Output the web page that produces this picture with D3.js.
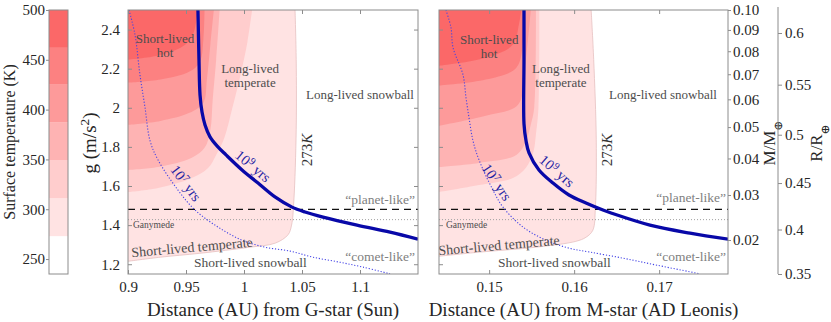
<!DOCTYPE html>
<html>
<head>
<meta charset="utf-8">
<title>Surface temperature and lifetime vs distance and gravity</title>
<script src="https://d3js.org/d3.v7.min.js"></script>
<style>
    body { margin: 0; background: #fff; }
    text { font-family: "Liberation Serif", "DejaVu Serif", serif; fill: #262626; }
</style>
</head>
<body>
<script>
    // temperature levels (K) of the filled contours, and their colours
    var tempLevels = [273, 311, 349, 387, 425, 462, 500];
    var bandColors = ["#ffe3e3", "#ffcdcd", "#feb3b3", "#fd9a9a", "#fc8181", "#fb6868"];
    var cbTicks = [250, 300, 350, 400, 450, 500];
    var gTicks = [1.2, 1.4, 1.6, 1.8, 2.0, 2.2, 2.4];
    var gDomain = [1.15, 2.5];
    var sunTicks = [0.9, 0.95, 1, 1.05, 1.1];
    var adlTicks = [0.15, 0.16, 0.17];
    var massTicks = [0.02, 0.03, 0.04, 0.05, 0.06, 0.07, 0.08, 0.09, 0.10];
    var radiusTicks = [0.35, 0.4, 0.45, 0.5, 0.55, 0.6];
    var planetLikeG = 1.48;
    var ganymedeG = 1.428;

    // contour boundaries [distance AU, g], G-star (Sun)
    var sunT273 = [[0.9, 1.215], [0.928, 1.236], [0.962, 1.256], [1.005, 1.287], [1.027, 1.308], [1.038, 1.351], [1.041, 1.400], [1.043, 1.528], [1.045, 1.887], [1.045, 2.246], [1.044, 2.5]];
    var sunT311 = [[0.9, 1.569], [0.926, 1.590], [0.955, 1.641], [0.969, 1.692], [0.976, 1.759], [0.983, 1.846], [0.990, 2.0], [0.997, 2.169], [1.003, 2.338], [1.007, 2.5]];
    var sunT349 = [[0.9, 1.682], [0.926, 1.697], [0.955, 1.744], [0.966, 1.795], [0.971, 1.887], [0.973, 2.041], [0.976, 2.246], [0.979, 2.5]];
    var sunT387 = [[0.9, 1.913], [0.928, 1.933], [0.953, 1.974], [0.965, 2.026], [0.968, 2.144], [0.971, 2.323], [0.974, 2.5]];
    var sunT425 = [[0.9, 2.128], [0.928, 2.144], [0.953, 2.185], [0.962, 2.236], [0.965, 2.349], [0.966, 2.5]];
    var sunT462 = [[0.9, 2.246], [0.926, 2.267], [0.947, 2.313], [0.956, 2.374], [0.960, 2.5]];
    var sunLife9 = [[0.9603, 2.5], [0.9612, 2.244], [0.9621, 2.065], [0.9638, 1.978], [0.9664, 1.912], [0.9707, 1.851], [0.9767, 1.805], [0.9845, 1.759], [0.9983, 1.682], [1.0121, 1.615], [1.0267, 1.544], [1.0414, 1.492], [1.0526, 1.467], [1.0681, 1.441], [1.0974, 1.400], [1.1259, 1.364], [1.15, 1.328]];
    var sunLife7 = [[0.9009, 2.5], [0.906, 2.374], [0.9103, 2.169], [0.9147, 2.0], [0.919, 1.831], [0.9259, 1.733], [0.9431, 1.579], [0.9578, 1.477], [0.9776, 1.390], [0.9983, 1.323], [1.0181, 1.287], [1.0397, 1.267], [1.0595, 1.236], [1.0828, 1.210], [1.1026, 1.185], [1.1259, 1.151]];

    // contour boundaries [distance AU, g], M-star (AD Leonis)
    var adlT273 = [[0.1441, 1.241], [0.1489, 1.262], [0.1555, 1.287], [0.1602, 1.317], [0.1614, 1.338], [0.1622, 1.374], [0.1625, 1.492], [0.1626, 1.836], [0.1623, 2.246], [0.1620, 2.5]];
    var adlT311 = [[0.1441, 1.569], [0.1488, 1.605], [0.1528, 1.641], [0.1543, 1.692], [0.1552, 1.774], [0.1555, 1.862], [0.1558, 2.0], [0.1559, 2.5]];
    var adlT349 = [[0.1441, 1.697], [0.1488, 1.718], [0.1532, 1.759], [0.1543, 1.826], [0.1549, 1.913], [0.1553, 2.0], [0.1555, 2.5]];
    var adlT387 = [[0.1441, 1.908], [0.1496, 1.959], [0.1534, 2.015], [0.1541, 2.169], [0.1549, 2.5]];
    var adlT425 = [[0.1441, 2.113], [0.1496, 2.144], [0.1532, 2.205], [0.1540, 2.344], [0.1542, 2.5]];
    var adlT462 = [[0.1441, 2.215], [0.1496, 2.256], [0.1528, 2.323], [0.1535, 2.426], [0.1538, 2.5]];
    var adlLife9 = [[0.1541, 2.5], [0.1541, 2.246], [0.1541, 1.918], [0.15434, 1.831], [0.15469, 1.769], [0.15586, 1.682], [0.15751, 1.615], [0.15939, 1.554], [0.16139, 1.513], [0.16339, 1.477], [0.16434, 1.462], [0.16892, 1.400], [0.17363, 1.359], [0.17812, 1.328]];
    var adlLife7 = [[0.14492, 2.5], [0.14551, 2.41], [0.14575, 2.308], [0.14692, 2.169], [0.14728, 2.051], [0.14763, 1.949], [0.1481, 1.831], [0.14881, 1.733], [0.15045, 1.579], [0.15163, 1.492], [0.15398, 1.390], [0.15669, 1.323], [0.1594, 1.282], [0.16186, 1.262], [0.16575, 1.231], [0.16975, 1.195], [0.1748, 1.151]];

    var W = 831, H = 322;
    var plotTop = 10, plotBottom = 274;
    var frameColor = "#8c8c8c";

    var svg = d3.select("body").append("svg").attr("width", W).attr("height", H);
    var yG = d3.scaleLinear().domain(gDomain).range([plotBottom, plotTop]);

    // write text made of plain / superscript / subscript / italic parts
    function setParts(t, parts) {
        parts.forEach(function (p) {
            if (typeof p === "string") { t.append("tspan").text(p); return; }
            var s = t.append("tspan").text(p.s);
            if (p.sup) s.attr("baseline-shift", "super").attr("font-size", "70%");
            if (p.sub) s.attr("baseline-shift", "sub").attr("font-size", "70%");
            if (p.it) s.attr("font-style", "italic");
        });
    }

    function styleAxis(a) {
        a.attr("font-size", null).attr("font-family", null);
        a.select(".domain").remove();
        a.selectAll(".tick line").attr("stroke", frameColor);
        a.selectAll(".tick text").attr("font-size", 15).attr("fill", "#262626");
    }

    function drawPanel(p) {
        var x = d3.scaleLinear().domain(p.xDomain).range(p.xRange);
        var x0 = p.xRange[0], x1 = p.xRange[1];
        svg.append("clipPath").attr("id", "clip-" + p.id).append("rect")
            .attr("x", x0).attr("y", plotTop).attr("width", x1 - x0).attr("height", plotBottom - plotTop);
        var plot = svg.append("g").attr("clip-path", "url(#clip-" + p.id + ")");
        var line = d3.line()
            .x(function (d) { return x(d[0]); })
            .y(function (d) { return yG(d[1]); })
            .curve(d3.curveCatmullRom.alpha(0.5));

        // filled temperature bands, coolest first
        p.contours.forEach(function (pts, i) {
            plot.append("path")
                .attr("d", line(pts) + "L" + x0 + "," + plotTop + "Z")
                .attr("fill", bandColors[i]);
        });
        plot.append("path").attr("d", line(p.contours[0]))
            .attr("fill", "none").attr("stroke", "#e6c0c0").attr("stroke-width", 0.8);

        // reference gravities
        plot.append("line").attr("x1", x0).attr("x2", x1)
            .attr("y1", yG(ganymedeG)).attr("y2", yG(ganymedeG))
            .attr("stroke", "#a0a0a0").attr("stroke-width", 1).attr("stroke-dasharray", "1,2");
        plot.append("line").attr("x1", x0).attr("x2", x1)
            .attr("y1", yG(planetLikeG)).attr("y2", yG(planetLikeG))
            .attr("stroke", "#111").attr("stroke-width", 1.3).attr("stroke-dasharray", "7,5");

        // lifetime curves
        plot.append("path").attr("d", line(p.life7)).attr("fill", "none")
            .attr("stroke", "#4545e6").attr("stroke-width", 1.1).attr("stroke-dasharray", "1.2,1.8");
        plot.append("path").attr("d", line(p.life9)).attr("fill", "none")
            .attr("stroke", "#0808a8").attr("stroke-width", 3.3).attr("stroke-linejoin", "round");

        // annotations
        p.notes.forEach(function (n) {
            var t = plot.append("text")
                .attr("transform", "translate(" + x(n.d) + "," + yG(n.g) + ")" + (n.rot ? " rotate(" + n.rot + ")" : ""))
                .attr("dy", "0.35em")
                .attr("text-anchor", n.anchor || "middle")
                .attr("font-size", n.size || 13.5)
                .style("fill", n.color || "#4d4d4d");
            setParts(t, n.t);
        });

        // frame and ticks
        svg.append("rect").attr("x", x0).attr("y", plotTop).attr("width", x1 - x0).attr("height", plotBottom - plotTop)
            .attr("fill", "none").attr("stroke", frameColor).attr("stroke-width", 1);

        var fmt = function (d) { return String(d); };
        styleAxis(svg.append("g").attr("transform", "translate(0," + plotBottom + ")")
            .call(d3.axisBottom(x).tickValues(p.xTicks).tickFormat(fmt).tickSize(-4).tickPadding(7)));
        styleAxis(svg.append("g").attr("transform", "translate(0," + plotTop + ")")
            .call(d3.axisTop(x).tickValues(p.xTicks).tickFormat("").tickSize(-4)));
        styleAxis(svg.append("g").attr("transform", "translate(" + x0 + ",0)")
            .call(d3.axisLeft(yG).tickValues(gTicks).tickFormat(p.gLabels ? fmt : "").tickSize(-4).tickPadding(8)));
        if (p.mirrorRight) {
            styleAxis(svg.append("g").attr("transform", "translate(" + x1 + ",0)")
                .call(d3.axisRight(yG).tickValues(gTicks).tickFormat("").tickSize(-4)));
        }

        svg.append("text").attr("x", (x0 + x1) / 2).attr("y", 316)
            .attr("text-anchor", "middle").attr("font-size", 19).text(p.title);
        return x;
    }

    var sunNotes = [
        { t: ["Short-lived"], d: 0.9319, g: 2.357, size: 13 },
        { t: ["hot"], d: 0.9319, g: 2.285, size: 13 },
        { t: ["Long-lived"], d: 1.0052, g: 2.203, size: 13 },
        { t: ["temperate"], d: 1.0052, g: 2.132, size: 13 },
        { t: ["Long-lived snowball"], d: 1.1, g: 2.070, size: 13 },
        { t: ["273", { s: "K", it: 1 }], d: 1.0543, g: 1.784, rot: -90, size: 15, color: "#333" },
        { t: ["10", { s: "9", sup: 1 }, " yrs"], d: 1.0078, g: 1.702, rot: 40, size: 14.5, color: "#1f1fa3" },
        { t: ["10", { s: "7", sup: 1 }, " yrs"], d: 0.950, g: 1.615, rot: 53, size: 14.5, color: "#1f1fa3" },
        { t: ["Ganymede"], d: 0.9043, g: 1.401, anchor: "start", size: 9.5 },
        { t: ["\u201cplanet-like\u201d"], d: 1.1474, g: 1.534, anchor: "end", color: "#808080" },
        { t: ["\u201ccomet-like\u201d"], d: 1.1474, g: 1.242, anchor: "end", color: "#808080" },
        { t: ["Short-lived temperate"], d: 0.9552, g: 1.288, rot: -5, size: 14 },
        { t: ["Short-lived snowball"], d: 0.9569, g: 1.211, anchor: "start" }
    ];
    var adlNotes = [
        { t: ["Short-lived"], d: 0.1500, g: 2.352, size: 13 },
        { t: ["hot"], d: 0.1500, g: 2.280, size: 13 },
        { t: ["Long-lived"], d: 0.15845, g: 2.203, size: 13 },
        { t: ["temperate"], d: 0.15845, g: 2.132, size: 13 },
        { t: ["Long-lived snowball"], d: 0.17045, g: 2.070, size: 13 },
        { t: ["273", { s: "K", it: 1 }], d: 0.16386, g: 1.784, rot: -90, size: 15, color: "#333" },
        { t: ["10", { s: "9", sup: 1 }, " yrs"], d: 0.15798, g: 1.677, rot: 41, size: 14.5, color: "#1f1fa3" },
        { t: ["10", { s: "7", sup: 1 }, " yrs"], d: 0.15092, g: 1.620, rot: 56, size: 14.5, color: "#1f1fa3" },
        { t: ["Ganymede"], d: 0.14492, g: 1.401, anchor: "start", size: 9.5 },
        { t: ["\u201cplanet-like\u201d"], d: 0.17786, g: 1.544, anchor: "end", color: "#808080" },
        { t: ["\u201ccomet-like\u201d"], d: 0.17786, g: 1.242, anchor: "end", color: "#808080" },
        { t: ["Short-lived temperate"], d: 0.15116, g: 1.298, rot: -5, size: 14 },
        { t: ["Short-lived snowball"], d: 0.15104, g: 1.211, anchor: "start" }
    ];

    drawPanel({
        id: "sun", xDomain: [0.9, 1.15], xRange: [128, 418], xTicks: sunTicks,
        contours: [sunT273, sunT311, sunT349, sunT387, sunT425, sunT462],
        life9: sunLife9, life7: sunLife7, notes: sunNotes,
        gLabels: true, mirrorRight: true, title: "Distance (AU) from G-star (Sun)"
    });
    drawPanel({
        id: "adl", xDomain: [0.1441, 0.1781], xRange: [439, 728], xTicks: adlTicks,
        contours: [adlT273, adlT311, adlT349, adlT387, adlT425, adlT462],
        life9: adlLife9, life7: adlLife7, notes: adlNotes,
        gLabels: false, mirrorRight: false, title: "Distance (AU) from M-star (AD Leonis)"
    });

    // g axis title
    var gt = svg.append("text").attr("transform", "translate(96,143) rotate(-90)")
        .attr("text-anchor", "middle").attr("font-size", 19);
    setParts(gt, ["g (m/s", { s: "2", sup: 1 }, ")"]);

    // mass axis: M grows as g^(1/0.395) along the same g range
    var mBottom = 0.1 * Math.pow(gDomain[0] / gDomain[1], 1 / 0.395);
    var yM = d3.scalePow().exponent(0.395).domain([mBottom, 0.1]).range([plotBottom, plotTop]);
    styleAxis(svg.append("g").attr("transform", "translate(728,0)")
        .call(d3.axisRight(yM).tickValues(massTicks).tickFormat(d3.format(".2f")).tickSize(3).tickPadding(2)));
    var mt = svg.append("text").attr("transform", "translate(775,143) rotate(-90)")
        .attr("text-anchor", "middle").attr("font-size", 17);
    setParts(mt, ["M/M", { s: "\u2295", sub: 1 }]);

    // radius axis: R grows as g^0.74
    var rTop = 0.35 * Math.pow(gDomain[1] / gDomain[0], 0.74);
    var yR = d3.scalePow().exponent(1 / 0.74).domain([0.35, rTop]).range([plotBottom, plotTop]);
    svg.append("line").attr("x1", 778).attr("x2", 778).attr("y1", 7).attr("y2", plotBottom)
        .attr("stroke", frameColor);
    styleAxis(svg.append("g").attr("transform", "translate(778,0)")
        .call(d3.axisRight(yR).tickValues(radiusTicks).tickFormat(function (d) { return String(d); }).tickSize(4).tickPadding(3)));
    var rt = svg.append("text").attr("transform", "translate(822,143) rotate(-90)")
        .attr("text-anchor", "middle").attr("font-size", 17);
    setParts(rt, ["R/R", { s: "\u2295", sub: 1 }]);

    // colour bar
    var yC = d3.scaleLinear().domain([235, 500]).range([plotBottom, plotTop]);
    var cb = svg.append("g");
    cb.append("rect").attr("x", 49).attr("y", plotTop).attr("width", 19).attr("height", plotBottom - plotTop).attr("fill", "#fff");
    bandColors.forEach(function (c, i) {
        cb.append("rect").attr("x", 49).attr("width", 19)
            .attr("y", yC(tempLevels[i + 1])).attr("height", yC(tempLevels[i]) - yC(tempLevels[i + 1]))
            .attr("fill", c);
    });
    cb.append("rect").attr("x", 49).attr("y", plotTop).attr("width", 19).attr("height", plotBottom - plotTop)
        .attr("fill", "none").attr("stroke", frameColor);
    styleAxis(svg.append("g").attr("transform", "translate(49,0)")
        .call(d3.axisLeft(yC).tickValues(cbTicks).tickSize(3).tickPadding(1)));
    svg.append("text").attr("transform", "translate(15,142) rotate(-90)")
        .attr("text-anchor", "middle").attr("font-size", 16).text("Surface temperature (K)");
</script>
</body>
</html>
